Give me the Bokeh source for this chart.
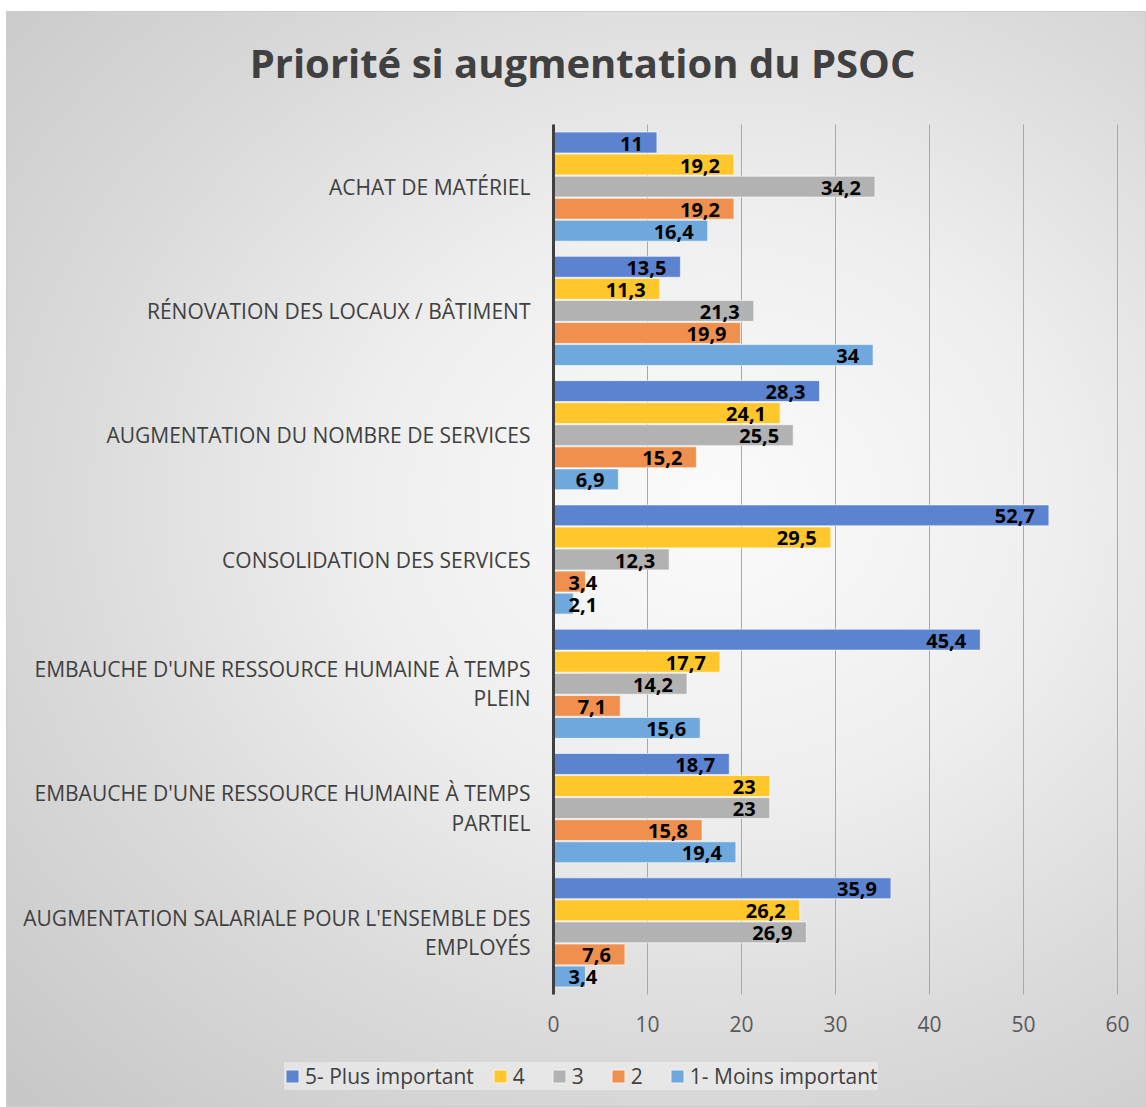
from bokeh.plotting import figure
from bokeh.models import FactorRange, Range1d, FixedTicker, ColumnDataSource, Legend, LegendItem, Label
from bokeh.transform import dodge
from bokeh.core.properties import value
from bokeh.embed import file_html
from bokeh.resources import INLINE

title_text = "Priorité si augmentation du PSOC"
categories = [
    "ACHAT DE MATÉRIEL",
    "RÉNOVATION DES LOCAUX / BÂTIMENT",
    "AUGMENTATION DU NOMBRE DE SERVICES",
    "CONSOLIDATION DES SERVICES",
    "EMBAUCHE D'UNE RESSOURCE HUMAINE À TEMPS PLEIN",
    "EMBAUCHE D'UNE RESSOURCE HUMAINE À TEMPS PARTIEL",
    "AUGMENTATION SALARIALE POUR L'ENSEMBLE DES EMPLOYÉS",
]
# how the category names are wrapped on the axis
wrapped = {
    "EMBAUCHE D'UNE RESSOURCE HUMAINE À TEMPS PLEIN": "EMBAUCHE D'UNE RESSOURCE HUMAINE À TEMPS\nPLEIN",
    "EMBAUCHE D'UNE RESSOURCE HUMAINE À TEMPS PARTIEL": "EMBAUCHE D'UNE RESSOURCE HUMAINE À TEMPS\nPARTIEL",
    "AUGMENTATION SALARIALE POUR L'ENSEMBLE DES EMPLOYÉS": "AUGMENTATION SALARIALE POUR L'ENSEMBLE DES\nEMPLOYÉS",
}

series_names = ["5- Plus important", "4", "3", "2", "1- Moins important"]
s5 = [11, 13.5, 28.3, 52.7, 45.4, 18.7, 35.9]
s4 = [19.2, 11.3, 24.1, 29.5, 17.7, 23, 26.2]
s3 = [34.2, 21.3, 25.5, 12.3, 14.2, 23, 26.9]
s2 = [19.2, 19.9, 15.2, 3.4, 7.1, 15.8, 7.6]
s1 = [16.4, 34, 6.9, 2.1, 15.6, 19.4, 3.4]
series_values = [s5, s4, s3, s2, s1]
colors = ["#5B83CF", "#FFC72C", "#B2B2B2", "#F0904F", "#6FA8DC"]
x_ticks = [0, 10, 20, 30, 40, 50, 60]

FONT = "Open Sans"

factors = [wrapped.get(c, c) for c in categories]
N = len(factors)

# ---- layout constants (pixels) ----
FIG_W, FIG_H = 1140, 1096
PX_X = 564 / 60            # px per value unit
ZERO_PX = 547              # value 0, px from the frame's left edge
PAD = 0.909                # room (in category units) above and below the bars
PX_Y = FIG_H / (N + 2 * PAD)

X_START = -ZERO_PX / PX_X
X_END = (FIG_W - ZERO_PX) / PX_X

p = figure(
    width=FIG_W, height=FIG_H,
    y_range=FactorRange(factors=list(reversed(factors)), range_padding=PAD,
                        range_padding_units="absolute"),
    x_range=Range1d(X_START, X_END),
    output_backend="svg", toolbar_location=None,
    min_border_left=0, min_border_right=0, min_border_top=0, min_border_bottom=0,
)
p.margin = (11, 0, 0, 6)
p.styles = {
    "background": "radial-gradient(ellipse at 62% 45%, #fbfbfb 0%, #eeeeee 35%, #dadada 65%, #c6c6c6 100%)",
    "box-shadow": "inset 0 0 0 1px #cdcdcd",
}
p.border_fill_color = None
p.background_fill_color = None
p.outline_line_color = None

# title drawn inside the frame
p.add_layout(Label(
    x=X_START + (582 - 6) / PX_X, y=N + PAD - 51 / PX_Y, text=title_text,
    text_align="center", text_baseline="middle",
    text_font=FONT, text_font_size="40px", text_font_style="bold", text_color="#404040",
))

offsets = [0.355, 0.1775, 0.0, -0.1775, -0.355]
renderers = []
for name, vals, col, off in zip(series_names, series_values, colors, offsets):
    labels = [("%g" % v).replace(".", ",") for v in vals]
    src = ColumnDataSource(dict(cat=factors, val=vals, lab=labels))
    r = p.hbar(y=dodge("cat", off, range=p.y_range), left=0, right="val", height=0.168,
               source=src, fill_color=col, line_color="white", line_alpha=0.6, line_width=1)
    renderers.append(r)
    big = [i for i, v in enumerate(vals) if v >= 5]
    small = [i for i, v in enumerate(vals) if v < 5]
    if big:
        sb = ColumnDataSource(dict(cat=[factors[i] for i in big], val=[vals[i] for i in big],
                                   lab=[labels[i] for i in big]))
        p.text(x="val", y=dodge("cat", off, range=p.y_range), text="lab", source=sb,
               text_align="right", text_baseline="middle", x_offset=-14, y_offset=1,
               text_font=value(FONT), text_font_style="bold", text_font_size="20px",
               text_color="black")
    if small:
        ss = ColumnDataSource(dict(cat=[factors[i] for i in small], val=[0 for i in small],
                                   lab=[labels[i] for i in small]))
        p.text(x="val", y=dodge("cat", off, range=p.y_range), text="lab", source=ss,
               text_align="left", text_baseline="middle", x_offset=15, y_offset=1,
               text_font=value(FONT), text_font_style="bold", text_font_size="20px",
               text_color="black")

p.xaxis.ticker = FixedTicker(ticks=x_ticks)
p.xaxis.fixed_location = 0
p.xaxis.axis_line_color = None
p.xaxis.major_tick_line_color = None
p.xaxis.minor_tick_line_color = None
p.xaxis.major_label_text_font = FONT
p.xaxis.major_label_text_font_size = "21px"
p.xaxis.major_label_text_color = "#595959"
p.xaxis.major_label_standoff = 15

p.yaxis.fixed_location = 0
p.yaxis.bounds = (0, N)
p.yaxis.axis_line_color = "#404040"
p.yaxis.axis_line_width = 3
p.yaxis.major_tick_line_color = None
p.yaxis.minor_tick_line_color = None
p.yaxis.major_label_text_font = FONT
p.yaxis.major_label_text_font_size = "21px"
p.yaxis.major_label_text_color = "#404040"
p.yaxis.major_label_text_line_height = 1.05
p.yaxis.major_label_standoff = 17

p.xgrid.grid_line_color = "#a8a8a8"
p.xgrid.grid_line_width = 1
p.xgrid.cross_bounds = (0, N)
p.ygrid.grid_line_color = None

legend = Legend(
    items=[LegendItem(label=n, renderers=[r]) for n, r in zip(series_names, renderers)],
    orientation="horizontal",
    location=(278, 17),
    label_text_font=FONT, label_text_font_size="21px", label_text_color="#404040",
    glyph_width=16, glyph_height=16, label_standoff=5, spacing=18,
    background_fill_color="#f2f2f2", background_fill_alpha=0.55,
    border_line_color=None, padding=10, margin=0,
)
p.add_layout(legend, "center")

open("out.html", "w").write(file_html(p, INLINE))
